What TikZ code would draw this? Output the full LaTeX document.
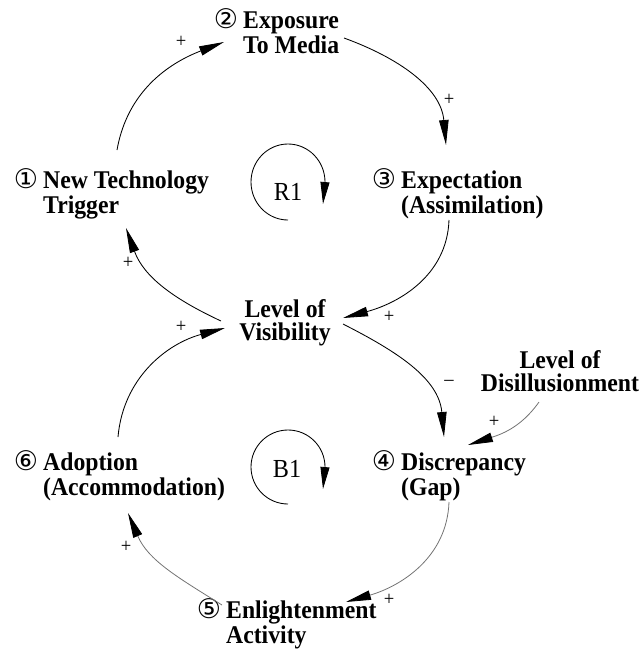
\documentclass[tikz,border=0pt]{standalone}
\usepackage{fontspec}
\setmainfont{Liberation Serif}[FakeStretch=0.93]
\newfontfamily\circfont{DejaVu Sans}
\usetikzlibrary{arrows.meta,calc}
% circled step number hanging to the left of the first line
\newcommand{\cnum}[1]{\llap{\smash{\circfont\mdseries\fontsize{27}{27}\selectfont #1}\hspace{5pt}}}
\begin{document}
\begin{tikzpicture}[x=1pt,y=1pt,
  % variables are placed by the baseline of their last line
  lbl/.style={font=\bfseries\fontsize{25.5}{23}\selectfont, inner sep=0pt, align=left, anchor=base west},
  clbl/.style={lbl, align=center, anchor=base},
  tip/.style={-{Triangle[length=25pt,width=9.5pt,color=black]}},
  link/.style={tip, line width=0.85pt},
  faint/.style={tip, line width=0.8pt, draw=black!55},
  pol/.style={font=\fontsize{20}{20}\selectfont, inner sep=0pt},
  loopname/.style={font=\fontsize{26}{26}\selectfont, inner sep=0pt, anchor=base},
  loopmark/.style={line width=0.85pt, -{Triangle[length=22pt,width=9pt]}}]

\useasboundingbox (0,0) rectangle (644,-649);

% variables
\node[lbl]  (expo) at (243,-53)  {\cnum{②}Exposure\\To Media};
\node[lbl]  (trig) at (43,-213)  {\cnum{①}New Technology\\Trigger};
\node[lbl]  (expe) at (401,-213) {\cnum{③}Expectation\\(Assimilation)};
\node[clbl] (vis)  at (285,-340) {Level of\\Visibility};
\node[clbl] (dis)  at (560,-391) {Level of\\Disillusionment};
\node[lbl]  (disc) at (401,-495) {\cnum{④}Discrepancy\\(Gap)};
\node[lbl]  (adop) at (43,-495)  {\cnum{⑥}Adoption\\(Accommodation)};
\node[lbl]  (enl)  at (226,-643) {\cnum{⑤}Enlightenment\\Activity};

% reinforcing loop R1
\draw[link] ([shift={(74,63)}]trig.base west) to[out=80,in=201]
  ([shift={(-19,11)}]expo.base west);
\draw[link] ([shift={(101,15)}]expo.base west) to[out=-20,in=95]
  ([shift={(45,68)}]expe.base west);
\draw[link] ([shift={(48,-7)}]expe.base west) to[out=-92,in=15]
  ([shift={(58,22)}]vis.base);
\draw[link] ([shift={(-64,19)}]vis.base) to[out=155,in=-70]
  ([shift={(83,-15)}]trig.base west);

% balancing loop B1
\draw[link] ([shift={(58,16)}]vis.base) to[out=-27,in=95]
  ([shift={(43,58)}]disc.base west);
\draw[faint] ([shift={(-21,-11)}]dis.base) to[out=235,in=18]
  ([shift={(67,50)}]disc.base west);
\draw[faint] ([shift={(48,-7)}]disc.base west) to[out=-92,in=16]
  ([shift={(120,41)}]enl.base west);
\draw[faint] ([shift={(-4,38)}]enl.base west) to[out=148,in=-67]
  ([shift={(85,-18)}]adop.base west);
\draw[link] ([shift={(75,58)}]adop.base west) to[out=85,in=195]
  ([shift={(-60,12)}]vis.base);

% link polarities
\node[pol] (p1) at (181,-42)  {+};
\node[pol] (p2) at (449,-100) {+};
\node[pol] (p3) at (389,-317) {+};
\node[pol] (p4) at (128,-263) {+};
\node[pol] (p5) at (181,-327) {+};
\node[pol] (p6) at (449,-383) {--};
\node[pol] (p7) at (494,-422) {+};
\node[pol] (p8) at (389,-600) {+};
\node[pol] (p9) at (126,-547) {+};

% loop markers
\node[loopname] (r1) at (288,-200) {R1};
\draw[loopmark] (288,-220) arc[start angle=270,end angle=0,x radius=37,y radius=38] -- ++(-2,-22);
\node[loopname] (b1) at (287,-477) {B1};
\draw[loopmark] (288,-504) arc[start angle=270,end angle=0,x radius=37,y radius=37] -- ++(-2,-22);
\end{tikzpicture}
\end{document}
